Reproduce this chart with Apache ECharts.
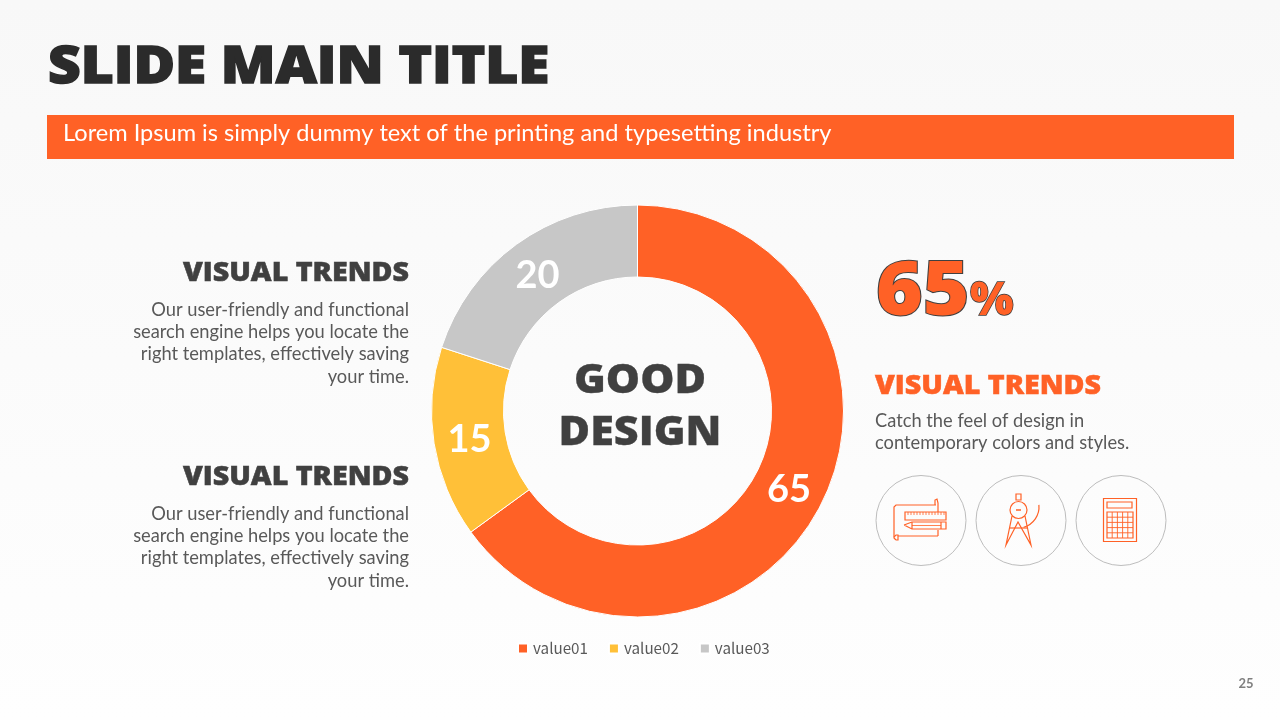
<!DOCTYPE html>
<html><head><meta charset="utf-8">
<style>html,body{margin:0;padding:0;background:#fafafa}#c{width:1280px;height:720px}</style>
<script src="https://cdn.jsdelivr.net/npm/echarts@6/dist/echarts.min.js"></script></head>
<body><div id="c"></div>
<script>
const categories = ['value01', 'value02', 'value03'];
const values = [65, 15, 20];
const sliceColors = ['#ff6126', '#ffc038', '#c7c7c7'];
const ORANGE = '#ff6126', DARK = '#404040', HEAD = '"Open Sans", sans-serif', BODY = 'Lato, "Open Sans", sans-serif';
const bodyLines = ['Our user-friendly and functional', 'search engine helps you locate the', 'right templates, effectively saving', 'your time.'];
const rightLines = ['Catch the feel of design in', 'contemporary colors and styles.'];

function txt(x, y, text, size, fill, align, weight, extra, sx) {
  return { type: 'text', x, y, scaleX: sx || 1, silent: true, style: Object.assign({ text, fill, align: align || 'left', verticalAlign: 'middle',
    font: (weight || 'normal') + ' ' + size + 'px ' + BODY }, extra || {}) };
}
function heavy(x, y, text, size, fill, align, sw, sx) {
  return txt(x, y, text, size, fill, align, '800', { stroke: fill, lineWidth: sw, lineJoin: 'round', font: '800 ' + size + 'px ' + HEAD }, sx);
}
function line(points, w) {
  return { type: 'polyline', silent: true, shape: { points }, style: { stroke: ORANGE, lineWidth: w || 1.2, fill: null } };
}
function rectS(x, y, w, h) {
  return { type: 'rect', silent: true, shape: { x, y, width: w, height: h }, style: { stroke: ORANGE, lineWidth: 1.2, fill: 'transparent' } };
}
const els = [
  heavy(48, 68, 'SLIDE MAIN TITLE', 52, '#2b2b2b', 'left', 1.5, 1.09),
  { type: 'rect', silent: true, shape: { x: 47, y: 115, width: 1187, height: 44 }, style: { fill: ORANGE } },
  txt(63, 133, 'Lorem Ipsum is simply dummy text of the printing and typesetting industry', 23.6, '#fff'),
  heavy(409, 274, 'VISUAL TRENDS', 26, DARK, 'right', 0.5, 1.1),
  heavy(409, 478, 'VISUAL TRENDS', 26, DARK, 'right', 0.5, 1.1),
  heavy(875, 387, 'VISUAL TRENDS', 26, ORANGE, 'left', 0.5, 1.1),
  heavy(640, 381, 'GOOD', 41, DARK, 'center', 0.3, 1.05),
  heavy(640, 433, 'DESIGN', 41, DARK, 'center', 0.3, 1.05),
  txt(876, 294, '65', 74, ORANGE, 'left', '800', { stroke: DARK, lineWidth: 2, font: '800 74px ' + HEAD }, 1.08),
  txt(970, 302, '%', 46, ORANGE, 'left', '800', { stroke: DARK, lineWidth: 1.5, font: '800 46px ' + HEAD }),
  txt(1246, 684, '25', 13, '#7f7f7f', 'center', 'bold'),
];
bodyLines.forEach((t, i) => {
  els.push(txt(409, 310 + i * 22.3, t, 18.3, '#595959', 'right'));
  els.push(txt(409, 514 + i * 22.3, t, 18.3, '#595959', 'right'));
});
rightLines.forEach((t, i) => els.push(txt(875, 421 + i * 22.5, t, 18.3, '#595959')));
[921, 1021, 1121].forEach(cx => els.push({ type: 'circle', silent: true, shape: { cx, cy: 520.5, r: 45 }, style: { fill: 'transparent', stroke: '#bdbdbd', lineWidth: 1 } }));
// blueprint + ruler + pencil icon
els.push(line([[936,505],[896,505],[894,507],[894,538],[896,540]]));
els.push(line([[896,540],[898,540],[898,535],[896,535],[894,537]]));
els.push(line([[898,536],[938,536]]));
els.push(line([[935,505],[935,500],[937,499],[938,503],[938,512]]));
els.push(line([[938,530],[938,536]]));
els.push(rectS(905, 512, 41, 8));
for (let i = 0; i < 13; i++) els.push(line([[908 + i * 3, 512], [908 + i * 3, 515]], 0.8));
els.push(line([[904,525],[912,522],[946,522],[946,529],[912,529],[904,525]]));
els.push(line([[912,522],[912,529]]));els.push(line([[941,522],[941,529]]));
els.push(line([[912,525.5],[941,525.5]],0.8));
// compass icon
els.push(rectS(1016, 494, 5, 6));
els.push({ type: 'circle', silent: true, shape: { cx: 1018.5, cy: 510, r: 8.5 }, style: { stroke: ORANGE, lineWidth: 1.2, fill: 'transparent' } });
els.push(line([[1016,510],[1021,510]],1.5));
els.push(line([[1012,516],[1006,545],[1018,522],[1031,545],[1025,516]]));
els.push(line([[1010,528],[1027,528]]));
els.push({ type: 'arc', silent: true, shape: { cx: 1018, cy: 507, r: 21, startAngle: -0.1, endAngle: 1.3 }, style: { stroke: ORANGE, lineWidth: 1.2, fill: null } });
// calculator icon
els.push(rectS(1103.5, 498.5, 33, 43));
els.push(rectS(1107, 502, 25, 6));
els.push(rectS(1107, 512, 26, 26));
for (let i = 1; i < 5; i++) {
  els.push(line([[1107 + i * 5.2, 512], [1107 + i * 5.2, 538]], 0.9));
  els.push(line([[1107, 512 + i * 5.2], [1133, 512 + i * 5.2]], 0.9));
}

const chart = echarts.init(document.getElementById('c'), null, { renderer: 'canvas' });
const total = values.reduce((a, b) => a + b, 0);
chart.setOption({
  animation: false,
  backgroundColor: new echarts.graphic.LinearGradient(0, 0, 0, 1, [{ offset: 0, color: '#f8f8f8' }, { offset: 1, color: '#fefefe' }]),
  color: sliceColors,
  legend: {
    data: categories, left: 512, top: 636, itemWidth: 10, itemHeight: 10, itemGap: 20, icon: 'rect',
    textStyle: { fontFamily: '"Noto Sans CJK KR", "Open Sans", sans-serif', fontSize: 15.2, color: '#595959' }
  },
  series: [{
    type: 'pie', center: [637.5, 411], radius: [134, 206], startAngle: 90, clockwise: true, avoidLabelOverlap: false,
    silent: true, itemStyle: { borderColor: '#fff', borderWidth: 1 },
    label: { show: true, position: 'inside', formatter: '{c}', color: '#fff', fontFamily: 'Lato, sans-serif', fontWeight: 'bold', fontSize: 38 },
    labelLine: { show: false },
    labelLayout: function (p) {
      const before = values.slice(0, p.dataIndex).reduce((a, b) => a + b, 0);
      const mid = (before + values[p.dataIndex] / 2) / total * 2 * Math.PI;
      return { x: 637.5 + 170 * Math.sin(mid), y: 413 - 170 * Math.cos(mid), align: 'center', verticalAlign: 'middle' };
    },
    data: categories.map((name, i) => ({ name, value: values[i] }))
  }],
  graphic: { elements: els }
});
</script></body></html>
